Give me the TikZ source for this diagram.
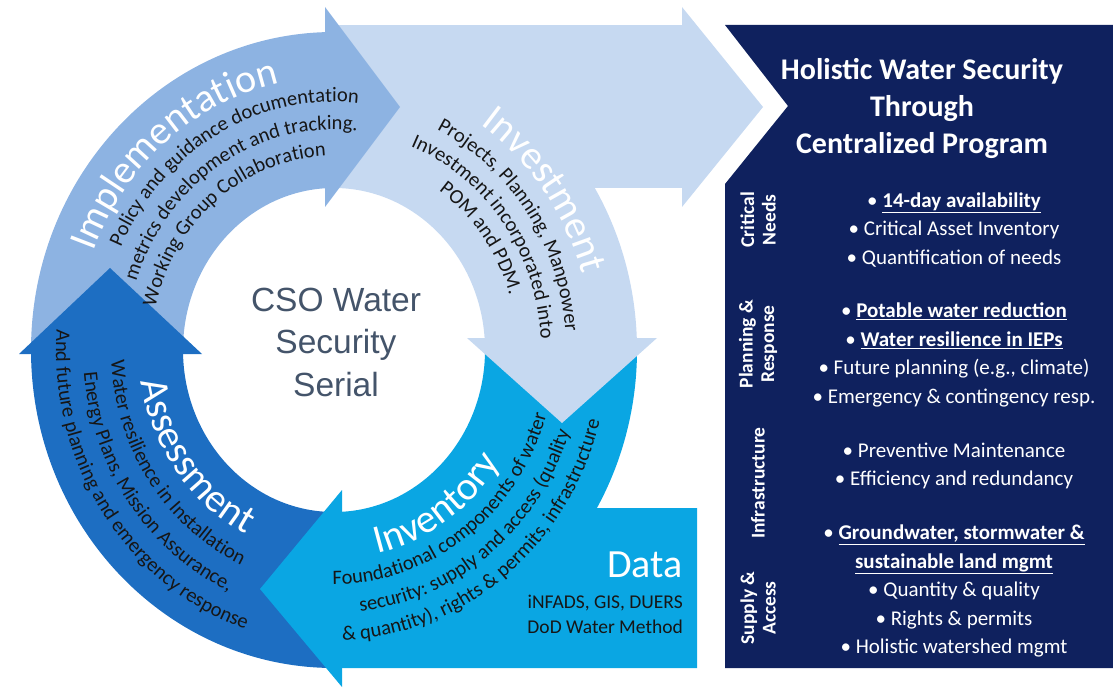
\documentclass[tikz,border=0pt]{standalone}
\usepackage{fontspec}
\setmainfont{Carlito}
\newfontfamily\arialfont{Liberation Sans}
\usetikzlibrary{decorations.text}

\definecolor{implblue}{HTML}{8DB3E2}
\definecolor{investblue}{HTML}{C6D9F1}
\definecolor{inventblue}{HTML}{0AA6E3}
\definecolor{assessblue}{HTML}{1D6EC2}
\definecolor{navy}{HTML}{0F215E}
\definecolor{csotext}{HTML}{44546A}
\definecolor{desctext}{HTML}{161616}

% fonts used on the ring
\newcommand{\ringtitlefont}{\fontsize{40}{44}\selectfont}
\newcommand{\ringdescfont}{\fontsize{20.5}{22}\selectfont}

% text set along an elliptic arc around the ring centre (334,339)
% #1 radius, #2 start angle, #3 end angle, #4 colour, #5 font, #6 text
\newcommand{\ringtext}[6]{%
  \path[decorate,decoration={text along path,text align=center,text color=#4,
      text={|#5|#6}}]
    ({334+#1*cos(#2)},{339+1.06*#1*sin(#2)})
    arc[start angle=#2,end angle=#3,x radius=#1,y radius={1.06*#1}];}

\tikzset{
  bullets/.style={text=white,align=center,font=\fontsize{21}{28.5}\selectfont},
  sidelabel/.style={text=white,align=center,rotate=90,font=\fontsize{19.5}{21.5}\selectfont\bfseries},
}

\begin{document}
\begin{tikzpicture}[x=1pt,y=1pt]
\useasboundingbox (0,0) rectangle (1113,689);

% ---- ring shafts ----
% Assessment (bottom -> left)
\fill[assessblue] (334,21) arc[start angle=270,end angle=180,x radius=303,y radius=318]
  -- (183,339) arc[start angle=180,end angle=270,x radius=151,y radius=162] -- cycle;
% Implementation (left -> top)
\fill[implblue] (31,339) arc[start angle=180,end angle=90,x radius=303,y radius=318]
  -- (334,501) arc[start angle=90,end angle=180,x radius=151,y radius=162] -- cycle;
% Investment (top -> right) with its horizontal bar
\fill[investblue] (334,657) arc[start angle=90,end angle=0,x radius=303,y radius=318]
  -- (485,339) arc[start angle=0,end angle=90,x radius=151,y radius=162] -- cycle;
\fill[investblue] (334,501) rectangle (682,664);
% Inventory (right -> bottom) with the data block
\fill[inventblue] (485,339) arc[start angle=0,end angle=-90,x radius=151,y radius=162]
  -- (334,21) -- (697,21) -- (697,181)
  -- ({334+303*cos(-29.8)},{339+318*sin(-29.8)})
  arc[start angle=-29.8,end angle=0,x radius=303,y radius=318] -- cycle;

% ---- arrow heads ----
\fill[investblue] (682,682) -- (763,582) -- (682,482) -- cycle;
\fill[implblue] (325,682) -- (400,582) -- (325,482) -- cycle;
\fill[investblue] (467,351) -- (657,351) -- (562,266) -- cycle;
\fill[inventblue] (342,199) -- (342,2) -- (260,100) -- cycle;
\fill[assessblue] (19,335) -- (202,335) -- (110,421) -- cycle;

% ---- right panel ----
\fill[navy] (725,664) -- (1113,664) -- (1113,21) -- (725,21) -- (725,505) -- (788,583) -- cycle;

% ---- centre ----
\node[font=\arialfont\fontsize{33.5}{42.5}\selectfont,text=csotext,align=center] (cso)
  at (336,347) {CSO Water\\Security\\Serial};

% ---- texts on the ring ----
% Implementation
\ringtext{258}{199.5}{59.5}{white}{\ringtitlefont}{Implementation}
\ringtext{234}{189}{49}{desctext}{\ringdescfont}{Policy and guidance documentation}
\ringtext{208}{192}{52}{desctext}{\ringdescfont}{metrics development and tracking.}
\ringtext{183}{199}{59}{desctext}{\ringdescfont}{Working Group Collaboration}
% Investment
\ringtext{258}{107}{-33}{white}{\ringtitlefont}{Investment}
\ringtext{232}{105}{-35}{desctext}{\ringdescfont}{Projects, Planning, Manpower}
\ringtext{207}{106.5}{-33.5}{desctext}{\ringdescfont}{Investment incorporated into}
\ringtext{183}{107}{-33}{desctext}{\ringdescfont}{POM and PDM.}
% Assessment
\ringtext{195}{147}{287}{white}{\ringtitlefont}{Assessment}
\ringtext{223}{145}{285}{desctext}{\ringdescfont}{Water resilience in Installation}
\ringtext{251}{146}{286}{desctext}{\ringdescfont}{Energy Plans, Mission Assurance,}
\ringtext{278}{144.5}{284.5}{desctext}{\ringdescfont}{And future planning and emergency response}
% Inventory
\ringtext{197}{-126}{14}{white}{\ringtitlefont}{Inventory}
\ringtext{221}{-124}{16}{desctext}{\ringdescfont}{Foundational components of water}
\ringtext{248}{-122}{18}{desctext}{\ringdescfont}{security: supply and access (quality}
\ringtext{274}{-122}{18}{desctext}{\ringdescfont}{{\&} quantity), rights {\&} permits, infrastructure}

% ---- data block ----
\node[anchor=base east,inner sep=0,text=white,font=\fontsize{40}{40}\selectfont] (data)
  at (683,112) {Data};
\node[anchor=base east,inner sep=0,text=desctext,font=\fontsize{19.5}{20}\selectfont] (src1)
  at (683,81) {iNFADS, GIS, DUERS};
\node[anchor=base east,inner sep=0,text=desctext,font=\fontsize{19.5}{20}\selectfont] (src2)
  at (683,56) {DoD Water Method};

% ---- panel texts ----
\node[text=white,align=center,font=\fontsize{30}{37}\selectfont\bfseries] (title)
  at (922,581) {Holistic Water Security\\Through\\Centralized Program};

\node[sidelabel] (lcrit) at (758,469) {Critical\\Needs};
\node[sidelabel] (lplan) at (758,345) {Planning \&\\Response};
\node[sidelabel] (linfra) at (758,206) {Infrastructure};
\node[sidelabel] (lsup) at (758,81) {Supply \&\\Access};

\node[bullets] (bcrit) at (954,459) {• \textbf{\underline{14-day availability}}\\
  • Critical Asset Inventory\\• Quantification of needs};
\node[bullets] (bplan) at (954,334) {• \textbf{\underline{Potable water reduction}}\\
  • \textbf{\underline{Water resilience in IEPs}}\\• Future planning (e.g., climate)\\
  • Emergency \& contingency resp.};
\node[bullets] (binfra) at (954,223) {• Preventive Maintenance\\• Efficiency and redundancy};
\node[bullets] (bsup) at (954,98) {• \textbf{\underline{Groundwater, stormwater \&}}\\
  \textbf{\underline{sustainable land mgmt}}\\• Quantity \& quality\\• Rights \& permits\\
  • Holistic watershed mgmt};
\end{tikzpicture}
\end{document}
